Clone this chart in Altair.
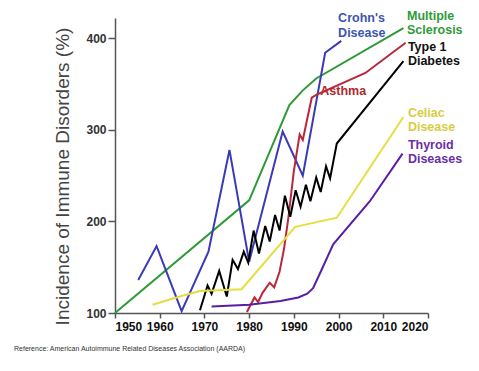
import altair as alt
import pandas as pd

# ---- data ----
ms_year = [1950, 1980, 1989, 1992, 1995, 2014.5]
ms_val = [100, 223, 327, 343, 356, 411]

crohn_year = [1955.2, 1959.3, 1964.9, 1970.9, 1975.6, 1980.0, 1987.5, 1992.0, 1997.0, 2000.6]
crohn_val = [136, 173, 102, 167, 278, 156, 298, 250, 384, 397]

asthma_year = [1979.5, 1981.2, 1982.0, 1983.0, 1984.6, 1985.6, 1986.8, 1987.8, 1988.8, 1990.0,
               1991.3, 1992.0, 1993.0, 1994.0, 1995.0, 2006.0, 2015.0]
asthma_val = [101, 117, 112, 122, 133, 128, 145, 170, 205, 255, 295, 289, 312, 335, 338, 362, 395]

t1d_year = [1969.0, 1970.7, 1971.6, 1973.3, 1975.0, 1976.3, 1977.5, 1978.8, 1979.8, 1981.0,
            1982.2, 1983.6, 1984.6, 1985.8, 1986.8, 1988.0, 1989.2, 1990.4, 1991.5, 1992.7,
            1993.7, 1995.0, 1996.0, 1997.2, 1998.1, 1999.6, 2014.5]
t1d_val = [103, 130, 121, 146, 118, 158, 148, 167, 155, 190, 165, 195, 178, 207, 190, 228,
           205, 234, 216, 240, 222, 248, 232, 260, 247, 285, 375]

celiac_year = [1958.4, 1964.5, 1969.0, 1978.3, 1990.3, 1999.6, 2014.5]
celiac_val = [109, 118, 124, 126, 194, 204, 314]

thyroid_year = [1971.6, 1980.0, 1987.0, 1991.0, 1993.0, 1994.3, 1996.0, 1998.8, 2007.0, 2014.3]
thyroid_val = [107, 109, 113, 117, 121, 127, 145, 175, 222, 274]

series_names = ["Multiple Sclerosis", "Crohn's Disease", "Asthma", "Type 1 Diabetes",
                "Celiac Disease", "Thyroid Diseases"]
series_colors = ["#2f9a35", "#3a3ab8", "#b8283a", "#000000", "#e6de3e", "#5a1ea6"]

x_ticks = [1950, 1960, 1970, 1980, 1990, 2000, 2010, 2020]
y_ticks = [100, 200, 300, 400]

# annotation labels (text, year, value, colour)
label_text = ["Crohn's", "Disease", "Multiple", "Sclerosis", "Type 1", "Diabetes", "Asthma",
              "Celiac", "Disease", "Thyroid", "Diseases"]
label_x = [1999.9, 1999.9, 2015.3, 2015.3, 2015.5, 2015.5, 1995.9, 2015.5, 2015.5, 2015.5, 2015.5]
label_y = [422, 406, 424, 409, 390, 375, 342, 318, 303, 283, 268]
label_color = ["#3e55b0", "#3e55b0", "#2f9b3a", "#2f9b3a", "#111111", "#111111", "#b0282c",
               "#d9cc44", "#d9cc44", "#6b2ea6", "#6b2ea6"]

# ---- build table ----
rows = []
for name, ys, vs in zip(series_names,
                        [ms_year, crohn_year, asthma_year, t1d_year, celiac_year, thyroid_year],
                        [ms_val, crohn_val, asthma_val, t1d_val, celiac_val, thyroid_val]):
    for i, (y, v) in enumerate(zip(ys, vs)):
        rows.append({"series": name, "year": y, "value": v, "idx": i})
df = pd.DataFrame(rows)

labels = pd.DataFrame({"text": label_text, "year": label_x, "value": label_y, "color": label_color})

FONT = "Arial"

xscale = alt.Scale(domain=[1950, 2020], nice=False, zero=False)
yscale = alt.Scale(domain=[100, 422], nice=False, zero=False)

lines = alt.Chart(df).mark_line(strokeWidth=2).encode(
    x=alt.X("year:Q", scale=xscale,
            axis=alt.Axis(values=x_ticks, format="d", title=None, grid=False,
                          labelFont=FONT, labelFontSize=12, labelFontWeight="bold",
                          labelColor="#111111", tickSize=5, tickColor="#555555",
                          domainColor="#555555", domainWidth=1.5, tickWidth=1.5,
                          labelPadding=3)),
    y=alt.Y("value:Q", scale=yscale,
            axis=alt.Axis(values=y_ticks, title="Incidence of Immune Disorders (%)", grid=False,
                          labelFont=FONT, labelFontSize=12, labelFontWeight="bold",
                          labelColor="#333333", tickSize=7, tickColor="#555555",
                          domainColor="#555555", domainWidth=1.5, tickWidth=1.5,
                          labelPadding=2, titleFont=FONT, titleFontSize=19,
                          titleFontWeight="normal", titleColor="#444444", titlePadding=13,
                          titleY=158)),
    color=alt.Color("series:N", scale=alt.Scale(domain=series_names, range=series_colors),
                    legend=None),
    detail="series:N",
    order="idx:Q",
)

text = alt.Chart(labels).mark_text(align="left", baseline="middle", font=FONT,
                                    fontSize=12.5, fontWeight="bold").encode(
    x=alt.X("year:Q", scale=xscale),
    y=alt.Y("value:Q", scale=yscale),
    text="text:N",
    color=alt.Color("color:N", scale=None),
)

chart = alt.layer(lines, text).properties(
    width=313, height=295,
    title=alt.TitleParams("Reference: American Autoimmune Related Diseases Association (AARDA)",
                          orient="bottom", anchor="start", frame="group", fontSize=7,
                          font=FONT, fontWeight="normal", color="#333333", dx=-101, offset=13),
    autosize=alt.AutoSizeParams(type="none"),
    padding={"left": 107, "top": 10, "right": 40, "bottom": 45},
).configure_view(stroke=None)

chart.save("out.html", embed_options={"renderer": "svg", "actions": False})
